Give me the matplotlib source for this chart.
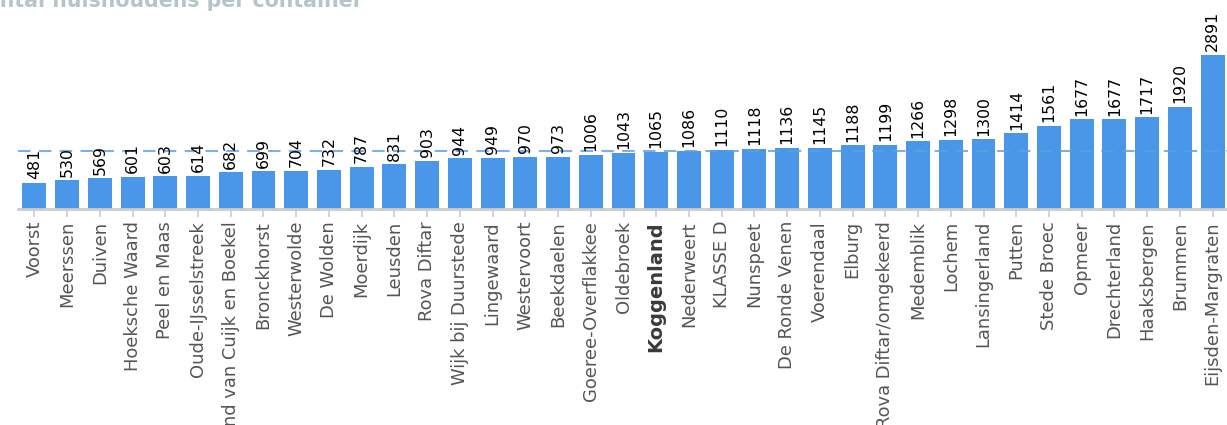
import matplotlib
matplotlib.use("Agg")
import matplotlib.pyplot as plt
import numpy as np

# gemeenten en aantal huishoudens per container
gemeenten = ["Voorst", "Meerssen", "Duiven", "Hoeksche Waard", "Peel en Maas",
             "Oude-IJsselstreek", "Land van Cuijk en Boekel", "Bronckhorst",
             "Westerwolde", "De Wolden", "Moerdijk", "Leusden", "Rova Diftar",
             "Wijk bij Duurstede", "Lingewaard", "Westervoort", "Beekdaelen",
             "Goeree-Overflakkee", "Oldebroek", "Koggenland", "Nederweert",
             "KLASSE D", "Nunspeet", "De Ronde Venen", "Voerendaal", "Elburg",
             "Rova Diftar/omgekeerd", "Medemblik", "Lochem", "Lansingerland",
             "Putten", "Stede Broec", "Opmeer", "Drechterland", "Haaksbergen",
             "Brummen", "Eijsden-Margraten"]
huishoudens = [481, 530, 569, 601, 603, 614, 682, 699, 704, 732, 787, 831, 903,
               944, 949, 970, 973, 1006, 1043, 1065, 1086, 1110, 1118, 1136,
               1145, 1188, 1199, 1266, 1298, 1300, 1414, 1561, 1677, 1677,
               1717, 1920, 2891]
highlight = "Koggenland"

fig = plt.figure(figsize=(12.27, 4.25), dpi=100)
ax = fig.add_axes([18 / 1227, (425 - 208.5) / 425, 1211 / 1227, 208.5 / 425])

x = np.arange(len(gemeenten))
bars = ax.bar(x, huishoudens, width=0.73, color="#4a96e8", zorder=2)
ax.set_xlim(-0.5, len(gemeenten) - 0.5)
ax.set_ylim(0, 208.5 / 0.0531)

gem = np.mean(huishoudens)
ax.axhline(gem, color="#5a9fe0", lw=1.5, ls=(0, (6, 4)), alpha=0.8, zorder=3)

for xi, v in zip(x, huishoudens):
    ax.text(xi, v + 70, str(v), rotation=90, ha="center", va="bottom",
            fontsize=11.3, color="black", zorder=4)

ax.set_xticks(x)
ax.set_xticklabels(gemeenten, rotation=90, fontsize=12.9, color="#555555")
for lbl in ax.get_xticklabels():
    if lbl.get_text() == highlight:
        lbl.set_fontweight("bold")
        lbl.set_fontsize(14)
        lbl.set_color("#3a3a3a")
ax.tick_params(axis="x", length=6, width=1.2, color="#cccccc", pad=3)
ax.set_yticks([])
for s in ["top", "right", "left"]:
    ax.spines[s].set_visible(False)
ax.spines["bottom"].set_color("#cccccc")
ax.spines["bottom"].set_linewidth(2)

fig.text(-0.0245, 1 - 7 / 425, "Aantal huishoudens per container", fontsize=14.8,
         fontweight="bold", color="#b5c6c9", ha="left", va="baseline")

fig.savefig("out.png", dpi=100)
